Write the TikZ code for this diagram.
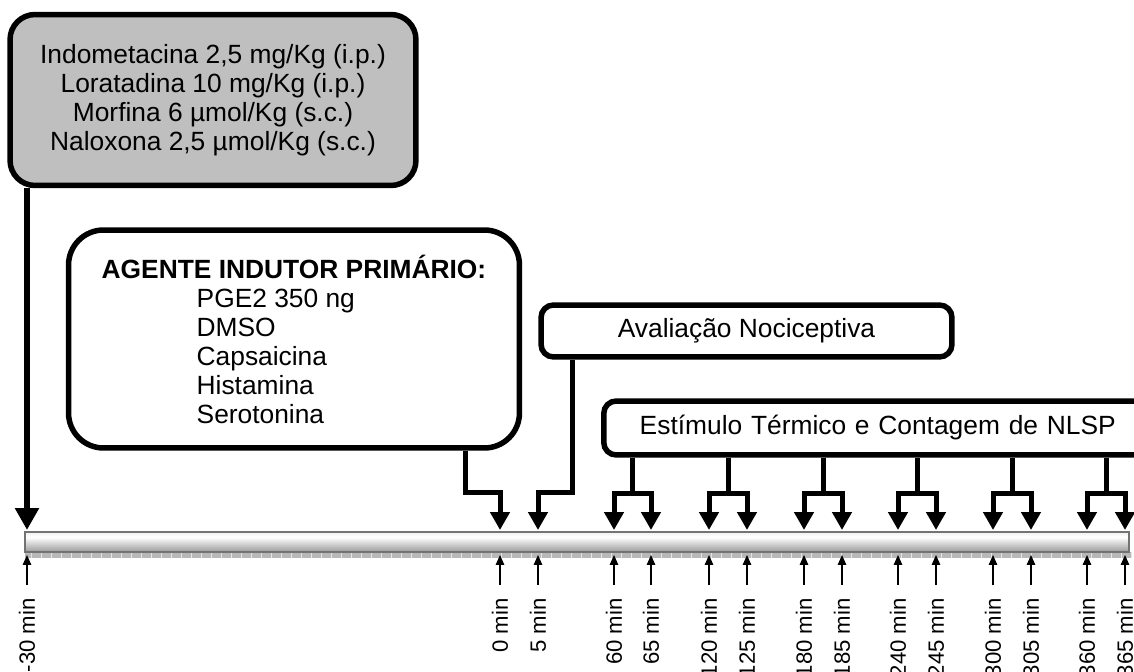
\documentclass[tikz,border=0pt]{standalone}
\usepackage{fontspec}
\setmainfont{Liberation Sans}
\usetikzlibrary{arrows.meta,calc}
\pgfdeclareverticalshading{barshade}{100bp}{color(0bp)=(black!50); color(25bp)=(black!40); color(62bp)=(white); color(80bp)=(black!8); color(100bp)=(black!25)}

\begin{document}
\begin{tikzpicture}[line join=miter,x=0.02cm,y=-0.02cm,
  box/.style={draw=black,line width=0.11cm,fill=white,inner sep=0pt},
  boxtext/.style={font=\fontsize{15}{16.5}\selectfont},
  bigarrow/.style={line width=0.1cm,-{Triangle[width=0.38cm,length=0.36cm]}},
  twoarrow/.style={line width=0.1cm,{Triangle[width=0.38cm,length=0.36cm]}-{Triangle[width=0.38cm,length=0.36cm]}},
  tickarrow/.style={line width=0.03cm,-{Triangle[width=0.17cm,length=0.2cm]},shorten <=0.26cm},
  timelbl/.style={rotate=90,anchor=east,inner sep=0pt,font=\fontsize{12.6}{14}\selectfont}]
    \useasboundingbox (0,0) rectangle (1134,672);

    \node[box,fill=black!25,rounded corners=0.5cm,minimum width=8.12cm,minimum height=3.42cm,align=center,boxtext] (drugs) at (213,100)
        {Indometacina 2,5 mg/Kg (i.p.)\\Loratadina 10 mg/Kg (i.p.)\\Morfina 6 µmol/Kg (s.c.)\\Naloxona 2,5 µmol/Kg (s.c.)};
    \node[box,rounded corners=0.7cm,minimum width=9.02cm,minimum height=4.36cm,align=left,boxtext] (agent) at (294,339)
        {\textbf{AGENTE INDUTOR PRIMÁRIO:}\\\hspace*{1.9cm}PGE2 350 ng\\\hspace*{1.9cm}DMSO\\\hspace*{1.9cm}Capsaicina\\\hspace*{1.9cm}Histamina\\\hspace*{1.9cm}Serotonina};
    \node[box,rounded corners=0.25cm,minimum width=8.22cm,minimum height=1.04cm,boxtext] (aval) at (746.5,331) {Avaliação Nociceptiva};
    \node[box,rounded corners=0.25cm,anchor=west,inner xsep=0.72cm,text width=9.94cm,minimum height=1.08cm,align=left,boxtext] (stim) at (601,428)
        {Estímulo Térmico e Contagem de NLSP};

    \fill[black!28] (25,552) rectangle (1132,558);
    \foreach \x in {31,41,...,1131}
        \draw[black!10,line width=0.3pt] (\x,552) -- (\x,558);
    \shade[shading=barshade] (25,532) rectangle (1129,552);
    \draw[black!55,line width=0.04cm] (25,532) rectangle (1129,552);

    \coordinate (split) at (0,494);
    \foreach \x/\t/\n in {27/-30/m30,500/0/0,538/5/5,614/60/60,651/65/65,709/120/120,747/125/125,804/180/180,842/185/185,
                          898/240/240,936/245/245,993/300/300,1031/305/305,1087/360/360,1125/365/365}{
        \coordinate (top\n) at (\x,530);
        \coordinate (bot\n) at (\x,555);
        \node[timelbl] (lab\n) at (\x,598) {\t{} min};
        \draw[tickarrow] (lab\n.east) -- (bot\n);
    }

    \draw[line width=0.14cm,-{Triangle[width=0.46cm,length=0.44cm]}] (topm30 |- drugs.south) -- (topm30);
    \draw[bigarrow] ([xshift=-1.14cm]agent.south east) -- ++(0,42) -| (top0);
    \draw[bigarrow] ([xshift=0.68cm]aval.south west) -- ++(0,133) -| (top5);
    \foreach \a/\b in {60/65,120/125,180/185,240/245,300/305,360/365}{
        \coordinate (mid) at ($(top\a)!0.5!(top\b)$);
        \draw[line width=0.1cm] (mid |- stim.south) -- (mid |- split);
        \draw[twoarrow] (top\a) -- (top\a |- split) -- (top\b |- split) -- (top\b);
    }
\end{tikzpicture}
\end{document}
